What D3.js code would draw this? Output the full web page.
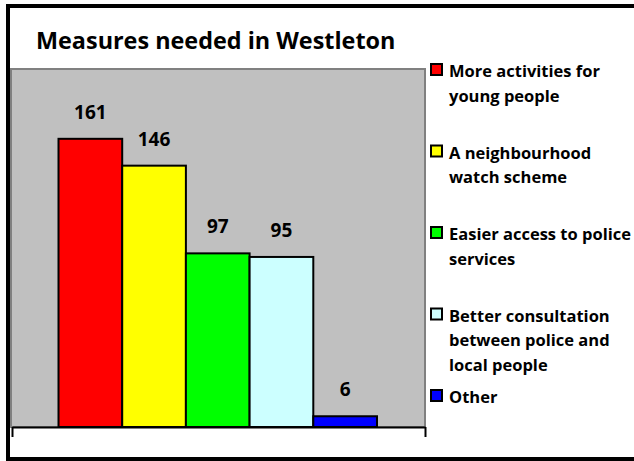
<!DOCTYPE html>
<html><head><meta charset="utf-8">
<script src="https://cdn.jsdelivr.net/npm/d3@7"></script>
<style>html,body{margin:0;padding:0;background:#fff;overflow:hidden}</style>
</head><body>
<svg id="c" width="634" height="461" style="display:block"></svg>
<script>
const title = "Measures needed in Westleton";
const categories = ["More activities for young people","A neighbourhood watch scheme","Easier access to police services","Better consultation between police and local people","Other"];
const legendLines = [["More activities for","young people"],["A neighbourhood","watch scheme"],["Easier access to police","services"],["Better consultation","between police and","local people"],["Other"]];
const values = [161,146,97,95,6];
const colors = ["#FF0000","#FFFF00","#00FF00","#CCFFFF","#0000FF"];
const yTicks = [0,200];

const svg = d3.select("#c");
const font = "'Open Sans', Lato, sans-serif";

// outer frame (right side cut off)
svg.append("line").attr("x1",6).attr("x2",634).attr("y1",6).attr("y2",6).attr("stroke","#000").attr("stroke-width",4);
svg.append("line").attr("x1",6).attr("x2",634).attr("y1",459).attr("y2",459).attr("stroke","#000").attr("stroke-width",4);
svg.append("line").attr("x1",8).attr("x2",8).attr("y1",4).attr("y2",461).attr("stroke","#000").attr("stroke-width",4);

svg.append("text").attr("x",36).attr("y",49).text(title)
  .attr("font-family",font).attr("font-weight","bold").attr("font-size",23.4).attr("fill","#000");

const pl=11, pr=425, pt=69, pb=427;
svg.append("rect").attr("x",pl).attr("y",pt).attr("width",pr-pl).attr("height",pb-pt)
  .attr("fill","#C0C0C0").attr("stroke","#808080").attr("stroke-width",2);

const y = d3.scaleLinear().domain([yTicks[0], yTicks[yTicks.length-1]]).range([pb,pt]);
const x = d3.scaleBand().domain(categories).range([pl+47.5,pr-48]).paddingInner(0).paddingOuter(0);

const g = svg.append("g");
g.selectAll("rect.bar").data(values).enter().append("rect").attr("class","bar")
  .attr("x",(d,i)=>x(categories[i])).attr("width",x.bandwidth())
  .attr("y",d=>y(d)).attr("height",d=>y(0)-y(d))
  .attr("fill",(d,i)=>colors[i]).attr("stroke","#000").attr("stroke-width",2);

g.selectAll("text.lbl").data(values).enter().append("text").attr("class","lbl")
  .attr("x",(d,i)=>x(categories[i])+x.bandwidth()/2)
  .attr("y",d=>y(d)-20).attr("text-anchor","middle")
  .attr("font-family",font).attr("font-weight","bold").attr("font-size",19).text(d=>d);

// category axis
const xa = d3.scaleLinear().domain([0,1]).range([pl+1,pr]);
const ax = svg.append("g").attr("transform",`translate(0,${pb})`)
  .call(d3.axisBottom(xa).tickValues([0,1]).tickFormat("").tickSize(10).tickSizeOuter(0));
ax.select(".domain").attr("stroke","#000").attr("stroke-width",2);
ax.selectAll(".tick line").attr("stroke","#000").attr("stroke-width",2);

// legend
const lg = svg.append("g");
const itemY = d3.scaleLinear().domain([0,4]).range([77,403]);
legendLines.forEach((lines,i)=>{
  const by = itemY(i);
  lg.append("rect").attr("x",431).attr("y",by-13).attr("width",11).attr("height",11)
    .attr("fill",colors[i]).attr("stroke","#000").attr("stroke-width",2);
  const t = lg.append("text").attr("font-family",font).attr("font-weight","bold").attr("font-size",16.5);
  lines.forEach((ln,j)=>t.append("tspan").attr("x",449).attr("y",by+j*24.5).text(ln));
});
</script>
</body></html>
